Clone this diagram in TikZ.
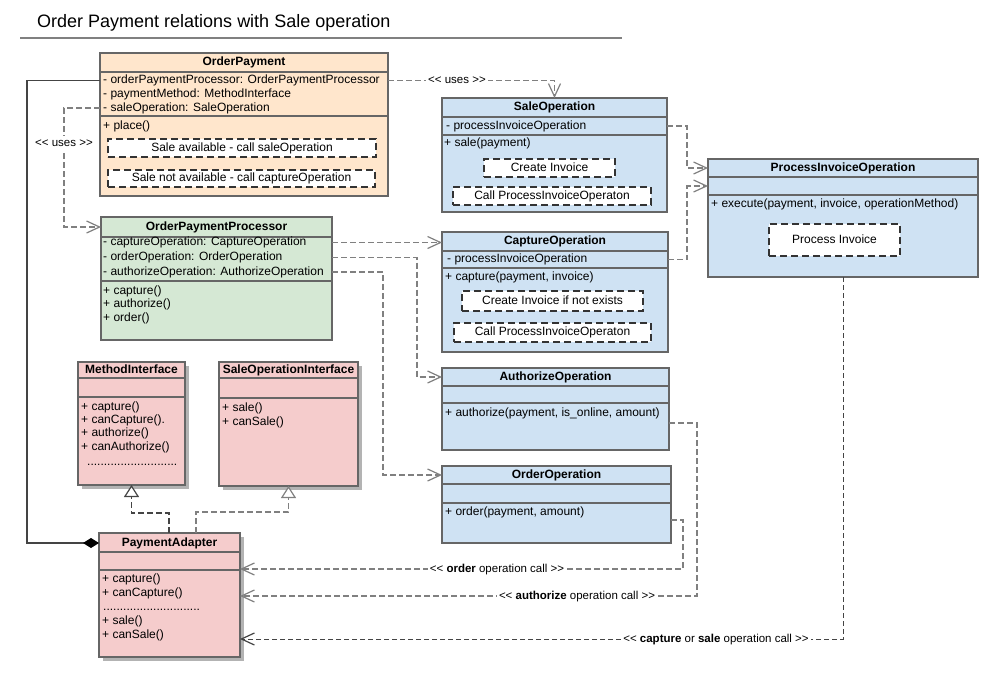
\documentclass[tikz,border=0pt]{standalone}
\usepackage{fontspec}
\newfontfamily\uml{Liberation Sans}
\usetikzlibrary{arrows.meta,shadows}
\definecolor{bord}{HTML}{666666}
\definecolor{peach}{HTML}{FFE6CC}
\definecolor{mint}{HTML}{D5E8D4}
\definecolor{sky}{HTML}{CFE2F3}
\definecolor{rose}{HTML}{F5CCCC}
\definecolor{lgray}{HTML}{808080}
\definecolor{dgray}{HTML}{444444}
\definecolor{inborder}{HTML}{333333}
\definecolor{shadowgray}{HTML}{B3B3B3}
\begin{document}
\begin{tikzpicture}[x=1pt,y=-1pt,
  cls/.style={draw=bord,line width=1.6pt,anchor=north west,inner sep=0pt,outer sep=0pt},
  shad/.style={drop shadow={shadow xshift=4pt,shadow yshift=-4pt,fill=shadowgray,opacity=1}},
  div/.style={draw=bord,line width=1.6pt},
  txt/.style={font=\uml\fontsize{12}{14}\selectfont,anchor=west,inner sep=0pt,text height=9pt,text depth=2.5pt},
  hdr/.style={font=\uml\bfseries\fontsize{12}{14}\selectfont,inner sep=0pt,text height=9pt,text depth=2.5pt},
  inbox/.style={draw=inborder,fill=white,line width=1.6pt,dash pattern=on 7pt off 4pt,inner sep=0pt,font=\uml\fontsize{12}{14}\selectfont,text height=9pt,text depth=2.5pt},
  dep/.style={draw=lgray,line width=1.4pt,dash pattern=on 6pt off 3pt},
  thindep/.style={draw=dgray,line width=1pt,dash pattern=on 5pt off 3pt},
  varr/.style={-{Straight Barb[length=13pt,width=12pt,line width=1.2pt]}},
  gen/.style={-{Triangle[length=12pt,width=15pt,fill=white,line width=1.2pt]}},
  solidc/.style={draw=dgray,line width=1.4pt},
  lbl/.style={font=\uml\fontsize{11.5}{13}\selectfont,fill=white,inner sep=2pt,text height=8.5pt,text depth=2.5pt}
]
\useasboundingbox (0,0) rectangle (1001,681);
\fill[white] (0,0) rectangle (1001,681);

% title
\node[font=\uml\fontsize{18}{21}\selectfont,anchor=base west,inner sep=0pt] (title) at (37,27.5) {Order Payment relations with Sale operation};
\draw[draw=lgray,line width=1.6pt] (20,38) -- (622,38);

% ---------- OrderPayment
\node[cls,fill=peach,minimum width=288pt,minimum height=143pt] (op) at (100,53) {};
\draw[div] ([yshift=-19pt]op.north west) -- ([yshift=-19pt]op.north east);
\draw[div] ([yshift=-63pt]op.north west) -- ([yshift=-63pt]op.north east);
\node[hdr] (opT) at (244,62.5) {OrderPayment};
\node[txt] (opA1) at (103,80.5) {- orderPaymentProcessor: OrderPaymentProcessor};
\node[txt] (opA2) at (103,94) {- paymentMethod: MethodInterface};
\node[txt] (opA3) at (103,108) {- saleOperation: SaleOperation};
\node[txt] (opM1) at (103,126.5) {+ place()};
\node[inbox,minimum width=268pt,minimum height=18pt] (opB1) at (242,148) {Sale available - call saleOperation};
\node[inbox,minimum width=267pt,minimum height=17pt] (opB2) at (241.5,178.5) {Sale not available - call captureOperation};

% ---------- SaleOperation
\node[cls,fill=sky,minimum width=225pt,minimum height=114pt] (so) at (442,98) {};
\draw[div] ([yshift=-19pt]so.north west) -- ([yshift=-19pt]so.north east);
\draw[div] ([yshift=-37pt]so.north west) -- ([yshift=-37pt]so.north east);
\node[hdr] (soT) at (554.5,107.5) {SaleOperation};
\node[txt] (soA1) at (446,126) {- processInvoiceOperation};
\node[txt] (soM1) at (444,143.5) {+ sale(payment)};
\node[inbox,minimum width=131pt,minimum height=18pt] (soB1) at (549.5,168) {Create Invoice};
\node[inbox,minimum width=198pt,minimum height=18pt] (soB2) at (552,196) {Call ProcessInvoiceOperaton};

% ---------- ProcessInvoiceOperation
\node[cls,fill=sky,minimum width=270pt,minimum height=118pt] (pio) at (708,159) {};
\draw[div] ([yshift=-18pt]pio.north west) -- ([yshift=-18pt]pio.north east);
\draw[div] ([yshift=-36pt]pio.north west) -- ([yshift=-36pt]pio.north east);
\node[hdr] (pioT) at (843,168) {ProcessInvoiceOperation};
\coordinate (pioA) at (708,186);
\node[txt] (pioM1) at (711,204.5) {+ execute(payment, invoice, operationMethod)};
\node[inbox,minimum width=131pt,minimum height=32pt] (pioB1) at (834.5,240) {Process Invoice};

% ---------- OrderPaymentProcessor
\node[cls,fill=mint,minimum width=231pt,minimum height=123pt] (opp) at (101,217) {};
\draw[div] ([yshift=-20pt]opp.north west) -- ([yshift=-20pt]opp.north east);
\draw[div] ([yshift=-64pt]opp.north west) -- ([yshift=-64pt]opp.north east);
\node[hdr] (oppT) at (216.5,227) {OrderPaymentProcessor};
\node[txt] (oppA1) at (103,242.5) {- captureOperation: CaptureOperation};
\node[txt] (oppA2) at (103,257.5) {- orderOperation: OrderOperation};
\node[txt] (oppA3) at (103,272) {- authorizeOperation: AuthorizeOperation};
\node[txt] (oppM1) at (103,291) {+ capture()};
\node[txt] (oppM2) at (103,304.5) {+ authorize()};
\node[txt] (oppM3) at (103,318) {+ order()};

% ---------- CaptureOperation
\node[cls,fill=sky,minimum width=226pt,minimum height=120pt] (cap) at (442,232) {};
\draw[div] ([yshift=-19pt]cap.north west) -- ([yshift=-19pt]cap.north east);
\draw[div] ([yshift=-36pt]cap.north west) -- ([yshift=-36pt]cap.north east);
\node[hdr] (capT) at (555,241.5) {CaptureOperation};
\node[txt] (capA1) at (447,259.5) {- processInvoiceOperation};
\node[txt] (capM1) at (445,277.5) {+ capture(payment, invoice)};
\node[inbox,minimum width=181pt,minimum height=20pt] (capB1) at (552.5,301) {Create Invoice if not exists};
\node[inbox,minimum width=197pt,minimum height=19pt] (capB2) at (552.5,332.5) {Call ProcessInvoiceOperaton};

% ---------- AuthorizeOperation
\node[cls,fill=sky,minimum width=227pt,minimum height=82pt] (auth) at (442,368) {};
\draw[div] ([yshift=-18pt]auth.north west) -- ([yshift=-18pt]auth.north east);
\draw[div] ([yshift=-35pt]auth.north west) -- ([yshift=-35pt]auth.north east);
\node[hdr] (authT) at (555.5,377) {AuthorizeOperation};
\node[txt] (authM1) at (445,413) {+ authorize(payment, is\_online, amount)};

% ---------- OrderOperation
\node[cls,fill=sky,minimum width=229pt,minimum height=77pt] (ord) at (442,466) {};
\draw[div] ([yshift=-18pt]ord.north west) -- ([yshift=-18pt]ord.north east);
\draw[div] ([yshift=-37pt]ord.north west) -- ([yshift=-37pt]ord.north east);
\node[hdr] (ordT) at (556.5,475) {OrderOperation};
\node[txt] (ordM1) at (445,512) {+ order(payment, amount)};

% ---------- MethodInterface
\node[cls,shad,fill=rose,minimum width=107pt,minimum height=123pt] (mi) at (78,362) {};
\draw[div] ([yshift=-16pt]mi.north west) -- ([yshift=-16pt]mi.north east);
\draw[div] ([yshift=-35pt]mi.north west) -- ([yshift=-35pt]mi.north east);
\node[hdr] (miT) at (131.5,370) {MethodInterface};
\node[txt] (miM1) at (81,407) {+ capture()};
\node[txt] (miM2) at (81,420) {+ canCapture().};
\node[txt] (miM3) at (81,433.5) {+ authorize()};
\node[txt] (miM4) at (81,447) {+ canAuthorize()};
\node[txt] (miD) at (87,462) {...........................};

% ---------- SaleOperationInterface
\node[cls,shad,fill=rose,minimum width=139pt,minimum height=124pt] (soi) at (219,362) {};
\draw[div] ([yshift=-16pt]soi.north west) -- ([yshift=-16pt]soi.north east);
\draw[div] ([yshift=-36pt]soi.north west) -- ([yshift=-36pt]soi.north east);
\node[hdr] (soiT) at (288.5,370) {SaleOperationInterface};
\node[txt] (soiM1) at (222,408) {+ sale()};
\node[txt] (soiM2) at (222,422) {+ canSale()};

% ---------- PaymentAdapter
\node[cls,shad,fill=rose,minimum width=141pt,minimum height=124pt] (pa) at (99,533) {};
\draw[div] ([yshift=-19pt]pa.north west) -- ([yshift=-19pt]pa.north east);
\draw[div] ([yshift=-37pt]pa.north west) -- ([yshift=-37pt]pa.north east);
\node[hdr] (paT) at (169.5,543) {PaymentAdapter};
\node[txt] (paM1) at (102,579.5) {+ capture()};
\node[txt] (paM2) at (102,593.5) {+ canCapture()};
\node[txt] (paD) at (103,607.5) {.............................};
\node[txt] (paM3) at (102,621.5) {+ sale()};
\node[txt] (paM4) at (102,635) {+ canSale()};

% ---------- connectors
\draw[solidc,-{Diamond[length=16pt,width=10pt,color=black]}] (opA1 -| op.west) -- ++(-73,0) |- (paT -| pa.west);
\draw[dep,varr] (opA3 -| op.west) -- ++(-36,0) |- (oppT -| opp.west);
\draw[dep,varr] (opA1 -| op.east) -| (so.north);
\draw[dep,varr] (soA1 -| so.east) -- ++(20,0) |- (pioT -| pio.west);
\draw[dep,varr] (capA1 -| cap.east) -- ++(19,0) |- (pioA);
\draw[dep,varr] (oppA1 -| opp.east) -- (oppA1 -| cap.west);
\draw[dep,varr] (oppA2 -| opp.east) -- ++(85,0) |- (authT -| auth.west);
\draw[dep,varr] (oppA3 -| opp.east) -- ++(51,0) |- (ordT -| ord.west);
\draw[dep,varr] ([yshift=-54pt]ord.north east) -- ++(12,0) |- ([yshift=-36pt]pa.north east);
\draw[dep,varr] ([yshift=-55pt]auth.north east) -- ++(28,0) |- ([yshift=-63pt]pa.north east);
\draw[thindep,varr] (pio.south) |- ([yshift=-106pt]pa.north east);
\draw[dep,draw=dgray,gen] ([xshift=70pt]pa.north west) -- ++(0,-20) -| (mi.south);
\draw[dep,gen] ([xshift=97pt]pa.north west) -- ++(0,-21) -| (soi.south);

% ---------- labels
\node[lbl] (l1) at (64,143) {<< uses >>};
\node[lbl] (l2) at (457,80.5) {<< uses >>};
\node[lbl] (l3) at (497,569) {<< \textbf{order} operation call >>};
\node[lbl] (l4) at (577,596) {<< \textbf{authorize} operation call >>};
\node[lbl] (l5) at (716,639) {<< \textbf{capture} or \textbf{sale} operation call >>};
\end{tikzpicture}
\end{document}
